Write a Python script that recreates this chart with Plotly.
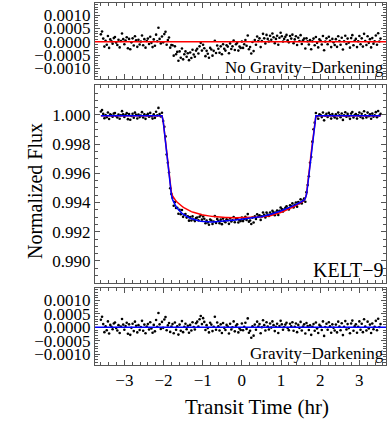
import numpy as np
import plotly.graph_objects as go

# observing cadence: one point every 0.03 hr
time_hr = np.round(np.arange(-3.60, 3.56, 0.03), 2)

# gravity-darkened model (blue), out of transit flat at 0.99995
model_gd = [0.99995] * 53 + [
    0.99960, 0.99890, 0.99815, 0.99740, 0.99665, 0.99590, 0.99515, 0.99455, 0.99420, 0.99400,
    0.99385, 0.99372, 0.99360, 0.99350, 0.99341, 0.99333, 0.99326, 0.99320, 0.99314, 0.99309,
    0.99304, 0.99300, 0.99296, 0.99292, 0.99289, 0.99286, 0.99283, 0.99281, 0.99279, 0.99277,
    0.99275, 0.99273, 0.99272, 0.99271, 0.99270, 0.99269, 0.99268, 0.99268, 0.99267, 0.99267,
    0.99267, 0.99267, 0.99267, 0.99268, 0.99268, 0.99269, 0.99270, 0.99271, 0.99271, 0.99272,
    0.99273, 0.99274, 0.99274, 0.99275, 0.99276, 0.99276, 0.99277, 0.99278, 0.99278, 0.99279,
    0.99279, 0.99280, 0.99281, 0.99281, 0.99282, 0.99282, 0.99283, 0.99283, 0.99284, 0.99285,
    0.99286, 0.99287, 0.99288, 0.99289, 0.99290, 0.99292, 0.99293, 0.99294, 0.99295, 0.99297,
    0.99298, 0.99300, 0.99301, 0.99303, 0.99305, 0.99306, 0.99308, 0.99310, 0.99312, 0.99314,
    0.99316, 0.99318, 0.99320, 0.99322, 0.99325, 0.99327, 0.99330, 0.99333, 0.99336, 0.99339,
    0.99342, 0.99345, 0.99348, 0.99351, 0.99354, 0.99357, 0.99361, 0.99364, 0.99368, 0.99371,
    0.99375, 0.99379, 0.99382, 0.99386, 0.99390, 0.99394, 0.99398, 0.99402, 0.99406, 0.99411,
    0.99417, 0.99428, 0.99455, 0.99515, 0.99590, 0.99665, 0.99740, 0.99815, 0.99890, 0.99960,
] + [0.99995] * 56

# model without gravity darkening (red)
model_nogd = [0.99995] * 53 + [
    0.99960, 0.99890, 0.99815, 0.99740, 0.99665, 0.99590, 0.99520, 0.99470, 0.99445, 0.99430,
    0.99420, 0.99410, 0.99402, 0.99394, 0.99387, 0.99380, 0.99374, 0.99368, 0.99363, 0.99358,
    0.99353, 0.99349, 0.99345, 0.99341, 0.99338, 0.99335, 0.99332, 0.99329, 0.99327, 0.99324,
    0.99322, 0.99320, 0.99318, 0.99316, 0.99315, 0.99313, 0.99312, 0.99310, 0.99309, 0.99308,
    0.99307, 0.99306, 0.99305, 0.99304, 0.99303, 0.99302, 0.99302, 0.99301, 0.99300, 0.99300,
    0.99299, 0.99299, 0.99298, 0.99298, 0.99298, 0.99297, 0.99297, 0.99297, 0.99297, 0.99296,
    0.99296, 0.99296, 0.99296, 0.99296, 0.99296, 0.99296, 0.99296, 0.99296, 0.99296, 0.99296,
    0.99296, 0.99296, 0.99297, 0.99297, 0.99297, 0.99297, 0.99298, 0.99298, 0.99298, 0.99299,
    0.99299, 0.99300, 0.99300, 0.99301, 0.99302, 0.99302, 0.99303, 0.99304, 0.99305, 0.99306,
    0.99307, 0.99309, 0.99311, 0.99313, 0.99316, 0.99318, 0.99321, 0.99323, 0.99326, 0.99329,
    0.99332, 0.99335, 0.99338, 0.99341, 0.99345, 0.99348, 0.99352, 0.99355, 0.99359, 0.99363,
    0.99367, 0.99371, 0.99375, 0.99379, 0.99384, 0.99388, 0.99393, 0.99397, 0.99402, 0.99408,
    0.99416, 0.99430, 0.99458, 0.99518, 0.99590, 0.99665, 0.99740, 0.99815, 0.99890, 0.99960,
] + [0.99995] * 56

# scatter of the data about the gravity-darkened model, in units of 1e-4
scatter_1e4 = [
    2.8, 3.9, 1.2, -1.8, 0.4, -1.1, 2.2, -2.3, 0.9, 0.2, -0.7, 1.4, 1.8, -0.3, -1.2, 0.8, -2.1, 0.3, 3.1, 1.0,
    -0.9, 0.5, 1.7, -2.4, 1.1, -2.8, -0.2, 1.3, -1.4, 2.1, 0.6, -1.9, 0.8, -1.0, 0.1, 2.4, -1.3, 1.0, -2.2, 0.3,
    1.2, -0.8, 1.9, -0.4, -2.0, 0.9, -1.5, 2.7, 0.2, 5.3, 1.1, -0.6, 2.0, -0.2, 2.9, 3.8, -1.1, 0.7, 1.6, -1.7,
    0.3, 1.2, -2.2, 1.8, -0.9, 0.4, -2.7, 1.0, -1.3, 2.3, -1.8, 0.2, 1.3, -0.7, 0.6, -2.0, 0.9, -1.2, 1.9, 0.1,
    -0.8, 1.5, 2.1, 0.3, 3.0, 4.2, 1.2, 3.4, 2.0, -1.0, 0.8, -0.3, -1.9, 1.7, 1.0, -1.4, 0.2, 3.9, -0.9, 1.8,
    0.4, -1.2, 1.1, -2.1, 1.6, -0.2, -1.0, 0.9, 0.3, -2.3, 1.3, -0.8, 0.0, 2.2, -1.5, 0.6, 1.1, -1.9, -0.4, -1.0,
    1.4, -1.1, 0.2, 1.7, -0.6, 3.3, -2.0, -1.3, -3.9, 0.4, -3.1, 1.0, -0.9, 2.1, 0.3, 1.2, -2.2, 0.0, 2.6, 0.8,
    -1.2, 1.9, 0.3, -0.8, 1.4, -0.1, 2.2, 0.8, -1.4, 0.2, 1.3, -2.1, 0.5, 2.4, 1.1, -0.9, 0.1, 1.0, 1.7, -0.3,
    -1.1, 1.3, 0.4, 1.9, -1.3, 0.2, 1.4, -1.8, 0.9, -0.2, 2.0, -1.2, 0.3, 1.1, -2.3, 1.6, 0.5, -1.0, 0.7, -2.8,
    0.2, 1.2, -1.3, 1.8, -0.4, -2.1, 0.9, 0.4, -1.0, 2.2, -3.2, 0.1, 1.3, -0.9, 1.9, 0.4, -2.0, 1.1, -0.2, -1.2,
    1.0, -1.9, 2.1, 0.3, -1.1, 1.5, -2.9, 0.2, 2.3, -0.8, 1.2, -0.3, -2.2, 1.4, 2.5, -1.3, 0.4, 1.1, -2.0, 0.2,
    2.2, -0.9, 1.3, -1.8, 3.0, 0.3, -1.2, 2.1, -0.4, 1.0, -2.1, 1.4, -0.7, 0.2, 2.4, -1.1, 3.2, 0.1, 1.2,
]

flux_ticks = [0.990, 0.992, 0.994, 0.996, 0.998, 1.000]
resid_ticks = [-0.0010, -0.0005, 0.0, 0.0005, 0.0010]

model_gd = np.array(model_gd)
model_nogd = np.array(model_nogd)
flux = model_gd + np.array(scatter_1e4) * 1e-4
resid_nogd = flux - model_nogd
resid_gd = flux - model_gd

FONT = "Liberation Serif"
FRAME = "#555555"

fig = go.Figure()

dots = dict(color="black", size=2.6)

fig.add_trace(go.Scatter(x=time_hr, y=resid_nogd, mode="markers", marker=dots,
                         xaxis="x", yaxis="y"))
fig.add_trace(go.Scatter(x=time_hr, y=flux, mode="markers", marker=dots,
                         xaxis="x2", yaxis="y2"))
fig.add_trace(go.Scatter(x=time_hr, y=model_nogd, mode="lines",
                         line=dict(color="#ff0000", width=1.5), xaxis="x2", yaxis="y2"))
fig.add_trace(go.Scatter(x=time_hr, y=model_gd, mode="lines",
                         line=dict(color="#0000ff", width=1.5), xaxis="x2", yaxis="y2"))
fig.add_trace(go.Scatter(x=time_hr, y=resid_gd, mode="markers", marker=dots,
                         xaxis="x3", yaxis="y3"))

# zero lines in the residual panels
fig.add_shape(type="line", xref="x domain", yref="y", x0=0, x1=1, y0=0, y1=0,
              line=dict(color="#ff0000", width=1.5))
fig.add_shape(type="line", xref="x3 domain", yref="y3", x0=0, x1=1, y0=0, y1=0,
              line=dict(color="#0000ff", width=1.5))

axis_style = dict(
    showline=True, linecolor=FRAME, linewidth=1, mirror="allticks",
    ticks="inside", ticklen=5, tickcolor=FRAME, tickwidth=1,
    showgrid=False, zeroline=False,
    tickfont=dict(family=FONT, size=17, color="black"),
)

x_range = [-3.75, 3.68]
x_minor = dict(ticks="inside", ticklen=3, tickcolor=FRAME, dtick=0.2, showgrid=False)
r_minor = dict(ticks="inside", ticklen=3, tickcolor=FRAME, dtick=0.0001)

fig.update_layout(
    width=390, height=422,
    margin=dict(l=95, r=4, t=3, b=57),
    paper_bgcolor="white", plot_bgcolor="white",
    showlegend=False,
    font=dict(family=FONT, color="black"),
    xaxis=dict(axis_style, range=x_range, dtick=1, tick0=0, showticklabels=False,
               minor=x_minor, anchor="y"),
    xaxis2=dict(axis_style, range=x_range, dtick=1, tick0=0, showticklabels=False,
                minor=x_minor, anchor="y2", matches="x"),
    xaxis3=dict(axis_style, range=x_range, dtick=1, tick0=0, minor=x_minor,
                anchor="y3", matches="x"),
    yaxis=dict(axis_style, domain=[0.790, 1.0], range=[-0.0014, 0.00146],
               tickvals=resid_ticks, tickformat=".4f", minor=r_minor),
    yaxis2=dict(axis_style, domain=[0.2265, 0.7735], range=[0.98849, 1.00205],
                tickvals=flux_ticks, tickformat=".3f",
                minor=dict(ticks="inside", ticklen=3, tickcolor=FRAME, dtick=0.0005, tick0=0.99)),
    yaxis3=dict(axis_style, domain=[0.0, 0.2127], range=[-0.0014, 0.00146],
                tickvals=resid_ticks, tickformat=".4f", minor=r_minor),
)

fig.add_annotation(text="No Gravity\u2212Darkening", xref="x domain", yref="y domain",
                   x=1.0, y=0.0, xanchor="right", yanchor="bottom", showarrow=False,
                   font=dict(family=FONT, size=17, color="black"))
fig.add_annotation(text="KELT\u22129", xref="x2 domain", yref="y2 domain",
                   x=1.0, y=0.0, xanchor="right", yanchor="bottom", showarrow=False,
                   font=dict(family=FONT, size=20, color="black"))
fig.add_annotation(text="Gravity\u2212Darkening", xref="x3 domain", yref="y3 domain",
                   x=1.0, y=0.0, xanchor="right", yanchor="bottom", showarrow=False,
                   font=dict(family=FONT, size=17, color="black"))

# axis titles placed by hand
fig.add_annotation(text="Normalized Flux", xref="paper", yref="paper",
                   x=-0.206, y=0.4807, xanchor="center", yanchor="middle",
                   textangle=-90, showarrow=False,
                   font=dict(family=FONT, size=20, color="black"))
fig.add_annotation(text="Transit Time (hr)", xref="paper", yref="paper",
                   x=0.557, y=-0.116, xanchor="center", yanchor="middle",
                   showarrow=False,
                   font=dict(family=FONT, size=21, color="black"))

# drop the default page margin so the 390x422 figure fits the window exactly
fig.write_html("out.html", config={"displayModeBar": False},
               post_script="document.body.style.margin='0';")
